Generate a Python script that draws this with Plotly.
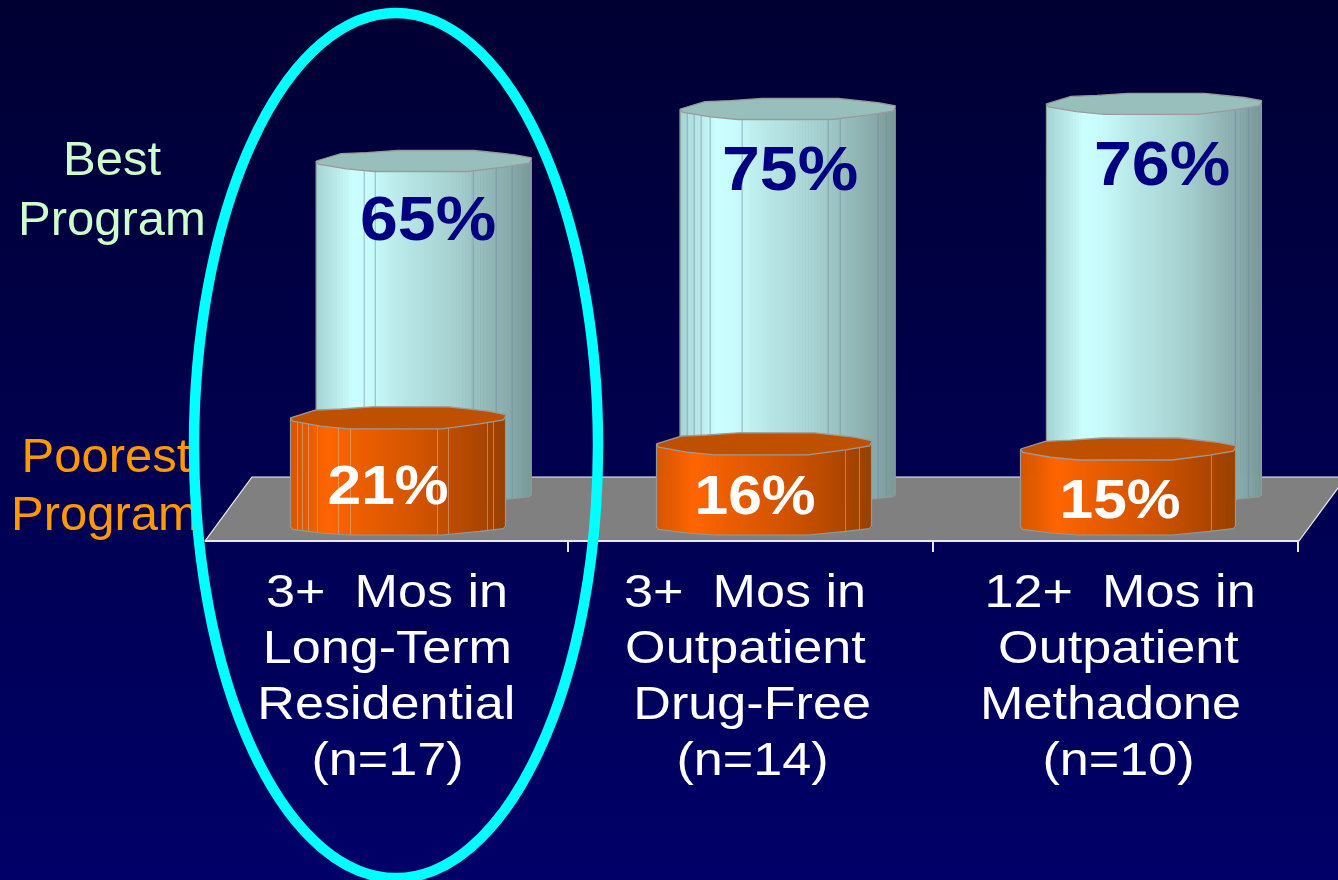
import numpy as np
import plotly.graph_objects as go

# ---------- data ----------
categories = [
    ["3+  Mos in", "Long-Term", "Residential", "(n=17)"],
    ["3+  Mos in", "Outpatient", "Drug-Free", "(n=14)"],
    ["12+  Mos in", "Outpatient", "Methadone", "(n=10)"],
]
best_values = [65, 75, 76]
poorest_values = [21, 16, 15]
series_names = ["Best Program", "Poorest Program"]

# ---------- layout constants ----------
W, H = 1338, 880
PX_X0, PX_UNIT = 398.0, 365.0        # pixel of category 0, pixels per category
PX_PER_PCT = 5.2
BACK_ZERO, FRONT_ZERO = 499.0, 527.0
HALF_W = 107.5 / PX_UNIT
best_pos = [0.0705, 1.0675, 2.071]
poor_pos = [0.0, 1.0027, 2.0]
best_lines = [[48, 59, 157, 180, 196], [7, 14, 21, 30, 62, 148, 160, 198, 206], [189, 202]]
poor_lines = [[7, 12, 18, 27, 48, 60, 147, 158, 197, 203], [189, 203], [191]]
best_label_xy = [(428, 218), (790, 168), (1162, 163)]
poor_label_xy = [(388, 484), (755, 494), (1120, 498)]
label_cx = [[386.5, 387, 386, 387], [745, 745.5, 751.5, 752], [1120, 1118.5, 1110, 1118]]
label_cy = [590, 646, 702, 758]
FONT = "Liberation Sans"

LIGHT_STOPS = [(0, "#a4d4d4"), (0.06, "#b4e2e2"), (0.14, "#c4f4f4"), (0.17, "#ccffff"), (0.26, "#c8fbfb"),
               (0.42, "#b8e6e6"), (0.65, "#a6d0d0"), (0.8, "#94b9b9"), (0.92, "#86a8a8"), (1, "#7a9999")]
ORANGE_STOPS = [(0, "#d95700"), (0.08, "#e65c00"), (0.17, "#ff6600"), (0.3, "#f06000"),
                (0.6, "#d25400"), (0.8, "#b84a00"), (1, "#994000")]

# faceted outline of a cylinder end (unit shape, left to right)
upper_u = [-1, -0.77, -0.53, -0.24, 0.47, 0.84, 1]
upper_v = [0, 0.7, 0.8, 1, 1, 0.6, 0.3]
lower_u = [-1, -0.98, -0.72, -0.46, 0.41, 0.76, 0.98, 1]
lower_v = [0, -0.3, -0.75, -1, -1, -0.55, -0.2, 0.1]


def hexrgb(c):
    return [int(c[i:i + 2], 16) for i in (1, 3, 5)]


def shade(stops, u):
    xs = [s[0] for s in stops]
    rgb = np.array([hexrgb(s[1]) for s in stops], float)
    return "rgb(%d,%d,%d)" % tuple(np.interp(u, xs, rgb[:, k]) for k in range(3))


def px_x(px):
    return (px - PX_X0) / PX_UNIT


def px_y(px, zero):
    return (zero - px) / PX_PER_PCT


def paper_x(px):
    return px / W


def paper_y(py):
    return 1 - py / H


fig = go.Figure()
low_u, low_v = np.array(lower_u), np.array(lower_v)
cap_u = np.array(upper_u + lower_u[::-1])
cap_v = np.array(upper_v + lower_v[::-1])


def cylinder(pos, value, yaxis, stops, cap, bottom_lift, ry_top, ry_bot, lines, line_col):
    n = 72
    edges = np.linspace(-1, 1, n + 1)
    mids = (edges[:-1] + edges[1:]) / 2
    x = pos + mids * HALF_W
    base = bottom_lift + np.interp(mids, low_u, low_v) * ry_bot / PX_PER_PCT
    fig.add_bar(
        x=x, base=base, y=value - base, width=2 * HALF_W / n * 1.25,
        marker=dict(color=[shade(stops, (m + 1) / 2) for m in mids], line_width=0),
        yaxis=yaxis, hoverinfo="skip", showlegend=False,
    )
    # facet lines
    lx, ly = [], []
    for off in lines:
        u = off / 107.5 - 1
        v0 = bottom_lift + float(np.interp(u, low_u, low_v)) * ry_bot / PX_PER_PCT
        lx += [pos + u * HALF_W, pos + u * HALF_W, None]
        ly += [v0, value, None]
    fig.add_scatter(x=lx, y=ly, mode="lines", line=dict(color=line_col, width=1), yaxis=yaxis,
                    hoverinfo="skip", showlegend=False)
    # outline of side + bottom
    ox = [pos - HALF_W] + list(pos + low_u * HALF_W) + [pos + HALF_W]
    oy = [value] + list(bottom_lift + low_v * ry_bot / PX_PER_PCT) + [value]
    fig.add_scatter(x=ox, y=oy, mode="lines", line=dict(color="#8f9a9a", width=1.2), yaxis=yaxis,
                    hoverinfo="skip", showlegend=False)
    # faceted cap
    fig.add_scatter(
        x=pos + cap_u * HALF_W, y=value + cap_v * ry_top / PX_PER_PCT, mode="lines", fill="toself",
        fillcolor=cap, line=dict(color="#9a9a9a", width=1.3), yaxis=yaxis,
        hoverinfo="skip", showlegend=False,
    )


for p, v, ls in zip(best_pos, best_values, best_lines):
    cylinder(p, v, "y", LIGHT_STOPS, "#99bfbd", 4 / PX_PER_PCT, 10.5, 8, ls, "rgba(110,135,160,0.6)")
for p, v, ls in zip(poor_pos, poorest_values, poor_lines):
    cylinder(p, v, "y2", ORANGE_STOPS, "#bf5000", 0, 11, 8, ls, "rgba(215,180,150,0.55)")

# series names sit under the ring, so they are chart text rather than annotations
a, b = series_names[0].split()
c, d = series_names[1].split()
side_px = [(112, 163, a), (112, 223, b), (106, 460, c), (105, 518, d)]
side_col = ["#ccffcc", "#ccffcc", "#ff9900", "#ff9900"]
fig.add_scatter(
    x=[px_x(s[0]) for s in side_px], y=[px_y(s[1], FRONT_ZERO) for s in side_px], text=[s[2] for s in side_px],
    mode="text", textposition="middle center", textfont=dict(family=FONT, size=49, color=side_col),
    yaxis="y2", hoverinfo="skip", showlegend=False, cliponaxis=False,
)

# ---------- shapes ----------
shapes = []
steps = 110
top_c, bot_c = np.array(hexrgb("#000033"), float), np.array(hexrgb("#000069"), float)
for i in range(steps):
    t = (i + 0.5) / steps
    col = top_c + (bot_c - top_c) * t
    shapes.append(dict(type="rect", xref="paper", yref="paper", x0=0, x1=1,
                       y0=paper_y((i + 1) * H / steps + 1), y1=paper_y(i * H / steps),
                       fillcolor="rgb(%d,%d,%d)" % tuple(col), line_width=0, layer="below"))
floor = [(205, 541), (252, 477), (1346, 477), (1299, 541)]
path = "M " + " L ".join(f"{paper_x(x):.5f} {paper_y(y):.5f}" for x, y in floor) + " Z"
shapes.append(dict(type="path", xref="paper", yref="paper", path=path, fillcolor="#808080",
                   line=dict(color="#f0f0f0", width=1.2), layer="below"))
shapes.append(dict(type="line", xref="paper", yref="paper", x0=paper_x(205), x1=paper_x(1299),
                   y0=paper_y(541), y1=paper_y(541), line=dict(color="#e8e8e8", width=2), layer="below"))
shapes.append(dict(type="circle", xref="paper", yref="paper", x0=paper_x(194), x1=paper_x(598),
                   y0=paper_y(878), y1=paper_y(13), line=dict(color="#00ffff", width=10.5),
                   fillcolor="rgba(0,0,0,0)", layer="above"))

# ---------- text ----------
ann = []


def text(px, py, s, size, color, bold=False):
    ann.append(dict(x=paper_x(px), y=paper_y(py), xref="paper", yref="paper", text=f"<b>{s}</b>" if bold else s,
                    showarrow=False, xanchor="center", yanchor="middle",
                    font=dict(family=FONT, size=size, color=color)))


for v, (x, y) in zip(best_values, best_label_xy):
    text(x, y, f"{v}%", 63, "#000080", True)
for v, (x, y) in zip(poorest_values, poor_label_xy):
    text(x, y, f"{v}%", 56, "#ffffff", True)
for lines, cxs in zip(categories, label_cx):
    for s, x, y in zip(lines, cxs, label_cy):
        text(x, y, s, 47, "#ffffff")

fig.update_layout(
    width=W, height=H, autosize=False, margin=dict(l=0, r=0, t=0, b=0),
    paper_bgcolor="#000050", plot_bgcolor="rgba(0,0,0,0)", barmode="overlay",
    showlegend=False, shapes=shapes, annotations=ann,
    xaxis=dict(range=[px_x(0), px_x(W)], showgrid=False, zeroline=False, showline=False,
               tickmode="array", tickvals=[i + 0.465 for i in range(len(categories))], ticktext=["", "", ""],
               ticks="outside", ticklen=10, tickwidth=2, tickcolor="#e8e8e8",
               anchor="free", position=paper_y(541), fixedrange=True),
    yaxis=dict(range=[px_y(H, BACK_ZERO), px_y(0, BACK_ZERO)], visible=False, fixedrange=True),
    yaxis2=dict(range=[px_y(H, FRONT_ZERO), px_y(0, FRONT_ZERO)], visible=False, overlaying="y", fixedrange=True),
)

css = (
    "body{margin:0;overflow:hidden}"
    ".annotation-text{transform-box:fill-box;transform-origin:center}"
    '.annotation-text[style*="font-size: 47px"]{transform:scaleX(1.11)}'
    '.annotation-text[style*="font-size: 63px"],.annotation-text[style*="font-size: 56px"]{transform:scaleX(1.08)}'
)
fig.write_html("out.html", config=dict(displayModeBar=False),
               post_script="var s=document.createElement('style');s.textContent=%r;document.head.appendChild(s);" % css)
